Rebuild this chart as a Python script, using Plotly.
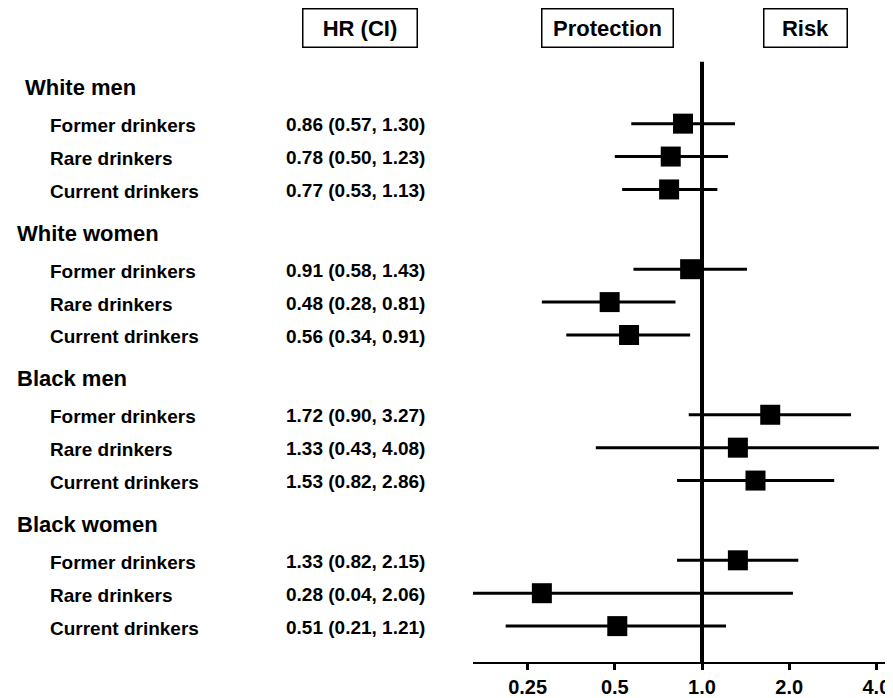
import math
import plotly.graph_objects as go

# ---------------- data ----------------
groups = ["White men", "White women", "Black men", "Black women"]
subgroups = ["Former drinkers", "Rare drinkers", "Current drinkers"]
hr = [0.86, 0.78, 0.77, 0.91, 0.48, 0.56, 1.72, 1.33, 1.53, 1.33, 0.28, 0.51]
ci_low = [0.57, 0.50, 0.53, 0.58, 0.28, 0.34, 0.90, 0.43, 0.82, 0.82, 0.04, 0.21]
ci_high = [1.30, 1.23, 1.13, 1.43, 0.81, 0.91, 3.27, 4.08, 2.86, 2.15, 2.06, 1.21]
tick_vals = [0.25, 0.5, 1.0, 2.0, 4.0]
tick_text = ["0.25", "0.5", "1.0", "2.0", "4.0"]
header_texts = ["HR (CI)", "Protection", "Risk"]

# ---------------- layout geometry (page pixels) ----------------
PAGE_W, PAGE_H = 893, 698
OFF = 8                       # default body margin of the html page
W, H = PAGE_W - OFF, PAGE_H - OFF
PLOT_L = 473                  # left edge of plotting area (page px)
PLOT_B = 664                  # axis line (page px)
X_ONE = 702                   # page px of HR = 1
PX_PER_OCT = 87.2
FONT = "Liberation Sans, Arial, Helvetica, sans-serif"

def px_x(p):
    return (p - PLOT_L) / (PAGE_W - PLOT_L)

def header_y(g):
    return 88 + 146 * g

def row_y(g, i):
    return header_y(g) + 36 + 33 * i

ys = [row_y(g, i) for g in range(len(groups)) for i in range(len(subgroups))]

fig = go.Figure()

# confidence-interval lines
cx, cy = [], []
for lo, hi, y in zip(ci_low, ci_high, ys):
    cx += [lo, hi, None]
    cy += [y, y, None]
fig.add_trace(go.Scatter(x=cx, y=cy, mode="lines",
                         line=dict(color="black", width=3),
                         hoverinfo="skip", showlegend=False))

# point estimates
fig.add_trace(go.Scatter(x=hr, y=ys, mode="markers",
                         marker=dict(symbol="square", size=20, color="black",
                                     line=dict(width=0)),
                         showlegend=False))

# reference line at HR = 1
fig.add_shape(type="line", xref="x", yref="y", x0=1, x1=1, y0=62, y1=PLOT_B,
              line=dict(color="black", width=4), layer="below")

ann = []
for g, name in enumerate(groups):
    ann.append(dict(text=name, xref="paper", yref="y",
                    x=px_x(23 if g == 0 else 15), y=header_y(g),
                    xanchor="left", yanchor="middle", showarrow=False,
                    font=dict(size=22, family=FONT, color="black", weight="bold")))
k = 0
for g in range(len(groups)):
    for i, sub in enumerate(subgroups):
        y = ys[k]
        ann.append(dict(text=sub, xref="paper", yref="y", x=px_x(48), y=y + 2,
                        xanchor="left", yanchor="middle", showarrow=False,
                        font=dict(size=19, family=FONT, color="black", weight="bold")))
        label = f"{hr[k]:.2f} ({ci_low[k]:.2f}, {ci_high[k]:.2f})"
        ann.append(dict(text=label, xref="paper", yref="y", x=px_x(355), y=y + 1,
                        xanchor="center", yanchor="middle", showarrow=False,
                        font=dict(size=19, family=FONT, color="black", weight="bold")))
        k += 1

# boxed column headers
box_specs = [(360, 113), (607, 130), (805, 82)]
for txt, (cxp, wbox) in zip(header_texts, box_specs):
    ann.append(dict(text=txt, xref="paper", yref="y", x=px_x(cxp), y=28,
                    xanchor="center", yanchor="middle", showarrow=False,
                    width=wbox, height=37, borderpad=0, borderwidth=1.5,
                    bordercolor="black", bgcolor="white",
                    font=dict(size=22, family=FONT, color="black", weight="bold")))

lo_lim = 2 ** (-(X_ONE - PLOT_L) / PX_PER_OCT)
hi_lim = 2 ** ((PAGE_W - X_ONE) / PX_PER_OCT)

fig.update_layout(
    width=W, height=H,
    margin=dict(l=PLOT_L - OFF, r=0, t=0, b=PAGE_H - PLOT_B, pad=0),
    paper_bgcolor="white", plot_bgcolor="white",
    annotations=ann,
    xaxis=dict(type="log", range=[math.log10(lo_lim), math.log10(hi_lim)],
               tickvals=tick_vals, ticktext=tick_text,
               showline=True, linecolor="black", linewidth=2,
               ticks="outside", ticklen=6, tickwidth=3, tickcolor="black",
               tickfont=dict(size=20, family=FONT, color="black", weight="bold"),
               showgrid=False, zeroline=False),
    yaxis=dict(range=[PLOT_B, OFF], visible=False, showgrid=False, zeroline=False),
    showlegend=False,
)

fig.write_html("out.html")
